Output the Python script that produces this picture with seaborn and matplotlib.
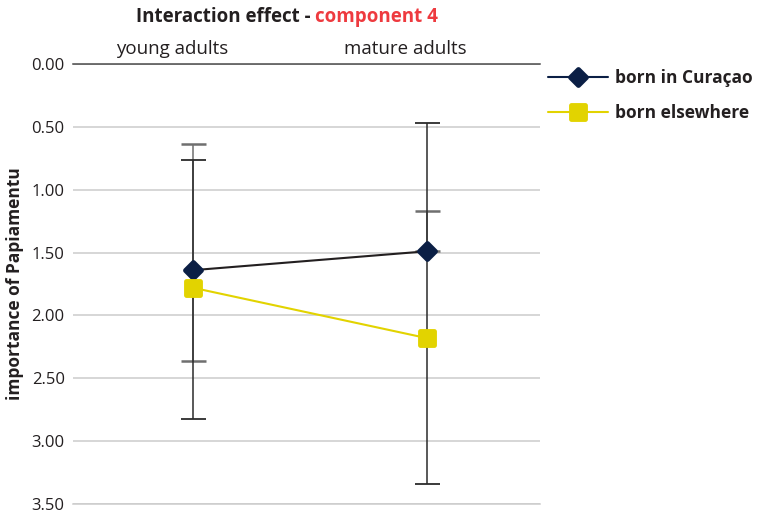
import matplotlib
matplotlib.use("Agg")
import matplotlib.pyplot as plt
import matplotlib.transforms as mtransforms
from matplotlib.markers import MarkerStyle
from matplotlib.lines import Line2D
import numpy as np
import pandas as pd
import seaborn as sns

# ---- data ----
groups = ["young adults", "mature adults"]
series = ["born in Curaçao", "born elsewhere"]
curacao_mean = [1.64, 1.49]
elsewhere_mean = [1.78, 2.18]
curacao_low = [0.64, 1.17]
curacao_high = [2.36, 1.49]
elsewhere_low = [0.76, 0.47]
elsewhere_high = [2.82, 3.34]
y_ticks = [0.0, 0.5, 1.0, 1.5, 2.0, 2.5, 3.0, 3.5]

NAVY = "#0b1f45"
DARK = "#231f20"
YELLOW = "#e2d300"
RED = "#ee3a3f"

sns.set_theme(style="white")
plt.rcParams["font.family"] = ["Open Sans", "DejaVu Sans"]

df = pd.DataFrame({
    "group": groups * 2,
    "origin": [series[0]] * 2 + [series[1]] * 2,
    "value": curacao_mean + elsewhere_mean,
})

fig = plt.figure(figsize=(7.63, 5.17), dpi=100)
ax = fig.add_axes([73 / 763, 1 - 504 / 517, (540 - 73) / 763, (504 - 64) / 517])

# means with connecting lines
n_before = len(ax.lines)
sns.pointplot(data=df, x="group", y="value", hue="origin", order=groups, hue_order=series,
              palette=[NAVY, YELLOW], markers=["D", "s"], errorbar=None, ax=ax, legend=False)
point_lines = ax.lines[n_before:]

line_cols = [DARK, YELLOW]
face_cols = [NAVY, YELLOW]
shapes = ["D", "s"]
sizes = [8.5, 9.5]
for i, ln in enumerate(point_lines[:2]):
    ln.set_color(line_cols[i])
    ln.set_linewidth(1.5)
    ln.set_marker(MarkerStyle(shapes[i], joinstyle="round"))
    ln.set_markerfacecolor(face_cols[i])
    ln.set_markeredgecolor(face_cols[i])
    ln.set_markeredgewidth(3.5)
    ln.set_markersize(sizes[i])
    ln.set_zorder(4)

# error bars behind the markers
pos = np.arange(len(groups))
ax.errorbar(pos, curacao_mean,
            yerr=[np.subtract(curacao_mean, curacao_low), np.subtract(curacao_high, curacao_mean)],
            fmt="none", ecolor="#6f6f6f", elinewidth=1.1, capsize=9, capthick=1.8, zorder=2)
ax.errorbar(pos, elsewhere_mean,
            yerr=[np.subtract(elsewhere_mean, elsewhere_low), np.subtract(elsewhere_high, elsewhere_mean)],
            fmt="none", ecolor="#2b2b2b", elinewidth=1.1, capsize=9, capthick=1.3, zorder=2)

ax.set_xlim(-0.514, 1.486)
ax.set_ylim(3.5, 0)
ax.set_yticks(y_ticks)
ax.set_yticklabels([f"{v:.2f}" for v in y_ticks])
ax.yaxis.grid(True, color="#cccccc", linewidth=1.1)
ax.set_axisbelow(True)
ax.xaxis.grid(False)

for s in ("left", "right"):
    ax.spines[s].set_visible(False)
ax.spines["top"].set_color("#4a4a4a")
ax.spines["top"].set_linewidth(1.1)
ax.spines["bottom"].set_color("#cccccc")
ax.spines["bottom"].set_linewidth(1.1)

ax.tick_params(axis="y", length=3, color="#bbbbbb", labelsize=12, labelcolor=DARK, pad=3)
ax.xaxis.tick_top()
ax.tick_params(axis="x", length=0, labelsize=13.5, labelcolor=DARK, pad=4)
ax.set_xlabel("")
ax.set_ylabel("importance of Papiamentu", fontsize=12.5, fontweight="bold", color=DARK)
ax.yaxis.set_label_coords(-0.105, 0.5)

shift = mtransforms.ScaledTranslation(-21 / 100, 0, fig.dpi_scale_trans)
for lab in ax.get_xticklabels():
    lab.set_transform(lab.get_transform() + shift)

# two-colour title
fig.text(311 / 763, 1 - 17 / 517, "Interaction effect -", ha="right", va="center",
         fontsize=13.5, fontweight="bold", color=DARK)
fig.text(315 / 763, 1 - 17 / 517, "component 4", ha="left", va="center",
         fontsize=13.5, fontweight="bold", color=RED)

handles = [
    Line2D([], [], color=NAVY, linewidth=1.5, marker=MarkerStyle("D", joinstyle="round"),
           markersize=8.5, markerfacecolor=NAVY, markeredgecolor=NAVY, markeredgewidth=3.5),
    Line2D([], [], color=YELLOW, linewidth=1.5, marker=MarkerStyle("s", joinstyle="round"),
           markersize=9.5, markerfacecolor=YELLOW, markeredgecolor=YELLOW, markeredgewidth=3.5),
]
leg = fig.legend(handles, series, loc="upper left", bbox_to_anchor=(548 / 763, 1 - 69 / 517),
                 frameon=False, borderpad=0, borderaxespad=0, handlelength=3.45,
                 handletextpad=0.4, labelspacing=0.97,
                 prop={"family": ["Open Sans", "DejaVu Sans"], "weight": "bold", "size": 12.5})
for t in leg.get_texts():
    t.set_color(DARK)

fig.savefig("out.png", dpi=100)
